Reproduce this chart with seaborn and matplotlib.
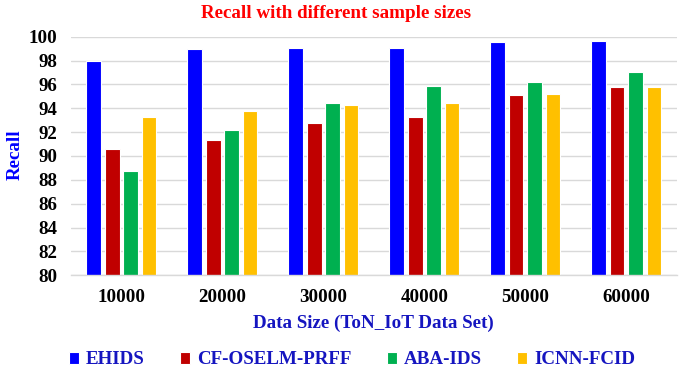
import matplotlib
matplotlib.use("Agg")
import matplotlib.pyplot as plt
import seaborn as sns
import pandas as pd

sizes = ["10000", "20000", "30000", "40000", "50000", "60000"]
methods = ["EHIDS", "CF-OSELM-PRFF", "ABA-IDS", "ICNN-FCID"]
ehids = [98.0, 98.97, 99.08, 99.08, 99.58, 99.64]
cf_oselm = [90.56, 91.37, 92.74, 93.3, 95.11, 95.76]
aba_ids = [88.74, 92.2, 94.47, 95.84, 96.23, 97.04]
icnn_fcid = [93.3, 93.8, 94.25, 94.47, 95.17, 95.76]
colors = ["#0000FF", "#C00000", "#00B050", "#FFC000"]

series = [ehids, cf_oselm, aba_ids, icnn_fcid]
rows = []
for m, vals in zip(methods, series):
    for s, v in zip(sizes, vals):
        rows.append({"Size": s, "Method": m, "Recall": v})
df = pd.DataFrame(rows)

sns.set_style("white")
plt.rcParams["font.family"] = ["Liberation Serif", "DejaVu Serif"]
plt.rcParams["font.weight"] = "bold"

FS = 13.7

fig = plt.figure(figsize=(6.85, 3.74), dpi=100)
ax = fig.add_axes([0.1036, 0.2639, 0.8844, 0.638])

sns.barplot(data=df, x="Size", y="Recall", hue="Method", order=sizes,
            hue_order=methods, palette=colors, width=0.73, gap=0.2,
            edgecolor="white", linewidth=0.8, saturation=1, ax=ax,
            errorbar=None)

ax.set_ylim(80, 100)
ax.set_yticks(range(80, 101, 2))
ax.yaxis.grid(True, color="#D9D9D9", linewidth=1)
ax.set_axisbelow(True)
for side in ["top", "right", "left"]:
    ax.spines[side].set_visible(False)
ax.spines["bottom"].set_color("#D9D9D9")
ax.spines["bottom"].set_linewidth(1)
ax.tick_params(axis="y", length=0, pad=10, labelsize=FS)
ax.tick_params(axis="x", length=0, pad=10, labelsize=FS)
for lab in ax.get_xticklabels() + ax.get_yticklabels():
    lab.set_fontweight("bold")
    lab.set_color("black")

ax.set_xlabel("Data Size (ToN_IoT Data Set)", fontsize=FS, fontweight="bold",
              color="#1515C0", labelpad=6)
ax.set_ylabel("")
fig.text(15 / 685, 1 - 155 / 374, "Recall", rotation=90, ha="center",
         va="center", fontsize=FS, fontweight="bold", color="#0000FF")

fig.text(336 / 685, 1 - 13 / 374, "Recall with different sample sizes",
         ha="center", va="center", fontsize=FS, fontweight="bold",
         color="#FF0000")

handles, labels = ax.get_legend_handles_labels()
if ax.get_legend() is not None:
    ax.get_legend().remove()
leg = fig.legend(handles, labels, loc="center", ncol=4,
                 bbox_to_anchor=(352 / 685, 1 - 360 / 374), frameon=False,
                 handlelength=0.55, handleheight=0.55, handletextpad=0.35,
                 columnspacing=1.85, prop={"size": FS, "weight": "bold"})
for t in leg.get_texts():
    t.set_color("#1515C0")

fig.savefig("out.png", dpi=100)
